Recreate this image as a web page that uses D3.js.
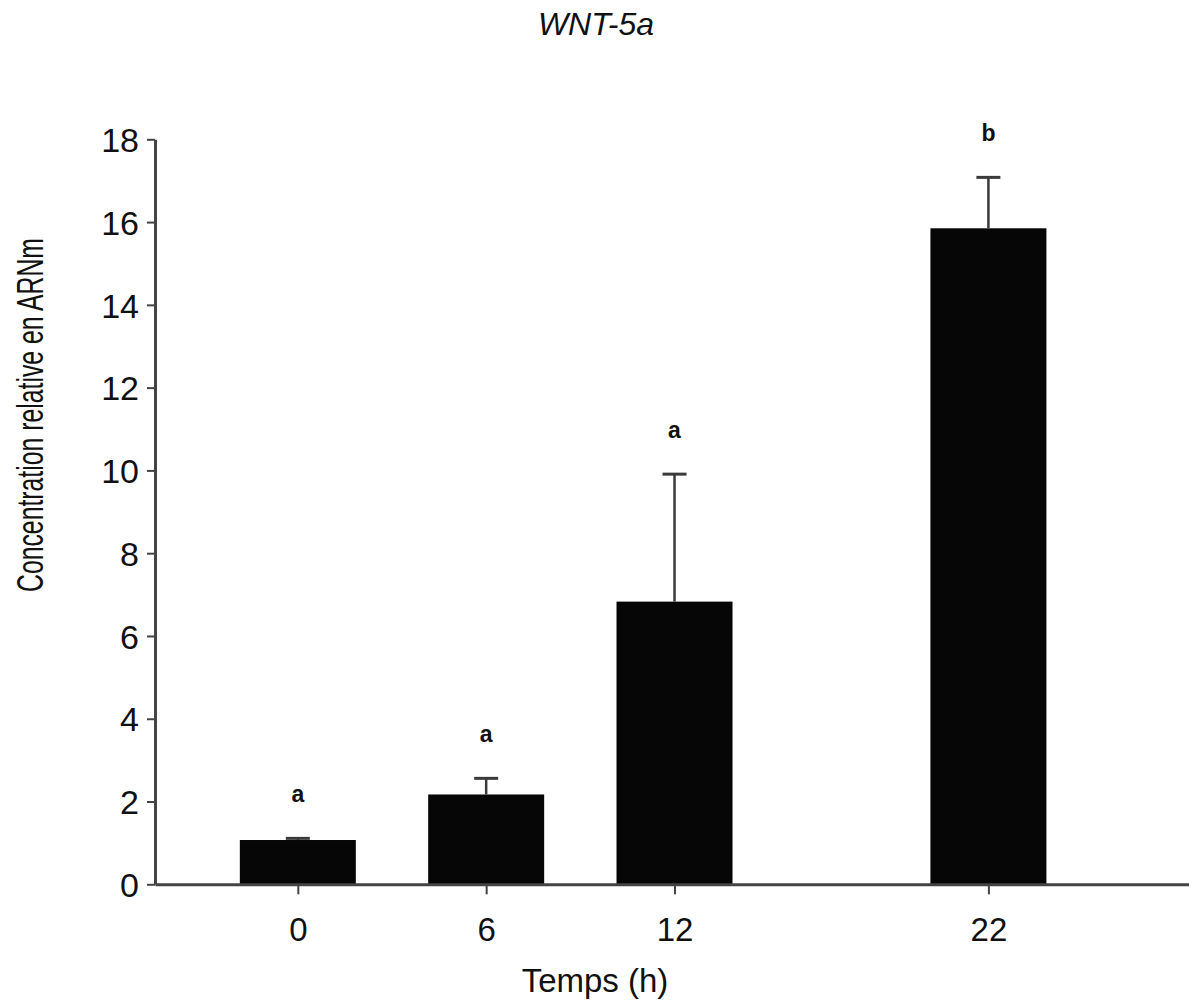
<!DOCTYPE html>
<html>
<head>
<meta charset="utf-8">
<script src="https://cdn.jsdelivr.net/npm/d3@7"></script>
<style>
  html, body { margin: 0; padding: 0; background: #fff; }
  svg { display: block; }
  text { font-family: "Liberation Sans", Arial, Helvetica, sans-serif; fill: #111; }
</style>
</head>
<body>
<svg id="chart" width="1189" height="1004"></svg>
<script>
// Relative WNT-5a mRNA concentration over time (mean + SEM)
const hours = [0, 6, 12, 22];
const means = [1.07, 2.17, 6.83, 15.85];
const sems = [0.04, 0.39, 3.08, 1.23];
const groups = ["a", "a", "a", "b"];
const yTicks = [0, 2, 4, 6, 8, 10, 12, 14, 16, 18];

const svg = d3.select("#chart");

const x = d3.scaleLinear().domain([-4.55, 28.39]).range([155, 1189]);
const y = d3.scaleLinear().domain([0, 18]).range([884.3, 139.3]);
const barWidth = 116;
const axisColor = "#444";

const data = hours.map((h, i) => ({ h, mean: means[i], sem: sems[i], g: groups[i] }));

// Bars
svg.append("g").selectAll("rect")
  .data(data)
  .join("rect")
  .attr("x", d => x(d.h) - barWidth / 2)
  .attr("y", d => y(d.mean))
  .attr("width", barWidth)
  .attr("height", d => y(0) - y(d.mean))
  .attr("fill", "#060606");

// Upper error bars
const err = svg.append("g").attr("stroke", "#3a3a3a");
err.selectAll("line.stem")
  .data(data)
  .join("line")
  .attr("class", "stem")
  .attr("x1", d => x(d.h)).attr("x2", d => x(d.h))
  .attr("y1", d => y(d.mean)).attr("y2", d => y(d.mean + d.sem))
  .attr("stroke-width", 2.5);
err.selectAll("line.cap")
  .data(data)
  .join("line")
  .attr("class", "cap")
  .attr("x1", d => x(d.h) - 12).attr("x2", d => x(d.h) + 12)
  .attr("y1", d => y(d.mean + d.sem)).attr("y2", d => y(d.mean + d.sem))
  .attr("stroke-width", 3);

// Significance letters
svg.append("g").selectAll("text")
  .data(data)
  .join("text")
  .attr("x", d => x(d.h))
  .attr("y", d => y(d.mean + d.sem) - 36)
  .attr("text-anchor", "middle")
  .style("font-size", "23px")
  .style("font-weight", "bold")
  .text(d => d.g);

// Y axis
const yAxis = svg.append("g")
  .attr("transform", `translate(${x.range()[0]},0)`)
  .call(d3.axisLeft(y).tickValues(yTicks).tickSize(8).tickPadding(8).tickSizeOuter(0));
yAxis.select(".domain").attr("stroke", axisColor).attr("stroke-width", 3);
yAxis.selectAll(".tick line").attr("stroke", axisColor).attr("stroke-width", 2);
yAxis.selectAll(".tick text").style("font-size", "34px").attr("fill", "#111").attr("dy", "0.36em");

// X axis
const xAxis = svg.append("g")
  .attr("transform", `translate(0,${y(0)})`)
  .call(d3.axisBottom(x).tickValues(hours).tickFormat(d3.format("d")).tickSize(10).tickPadding(23).tickSizeOuter(0));
xAxis.select(".domain").attr("stroke", axisColor).attr("stroke-width", 3);
xAxis.selectAll(".tick line").attr("stroke", axisColor).attr("stroke-width", 2);
xAxis.selectAll(".tick text").style("font-size", "33px").attr("fill", "#111");

// Title
svg.append("text")
  .attr("x", 596).attr("y", 35)
  .attr("text-anchor", "middle")
  .style("font-size", "32px")
  .style("font-style", "italic")
  .text("WNT-5a");

// X axis title
svg.append("text")
  .attr("x", 595).attr("y", 992)
  .attr("text-anchor", "middle")
  .style("font-size", "33px")
  .text("Temps (h)");

// Y axis title (condensed)
svg.append("text")
  .attr("transform", "translate(43,415) rotate(-90)")
  .attr("text-anchor", "middle")
  .attr("textLength", 354)
  .attr("lengthAdjust", "spacingAndGlyphs")
  .style("font-size", "37px")
  .text("Concentration relative en ARNm");
</script>
</body>
</html>
